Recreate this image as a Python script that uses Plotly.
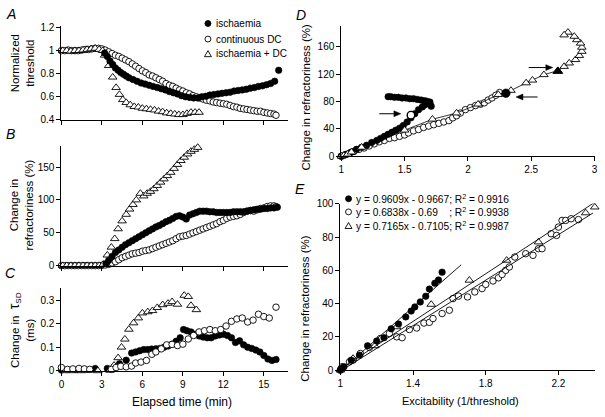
import plotly.graph_objects as go

W, H = 605, 417
FONT = "Liberation Sans, Arial, sans-serif"

# ---------------- Panel A: normalized threshold vs time ----------------
A_t_isch = [3.2, 3.4, 3.6, 3.8, 4.0, 4.2, 4.4, 4.6, 4.8, 5.0, 5.3, 5.6, 5.9, 6.2, 6.5, 6.8,
            7.1, 7.4, 7.7, 8.0, 8.3, 8.6, 8.9, 9.2, 9.5, 9.8, 10.1, 10.4, 10.7, 11.0, 11.3,
            11.6, 11.9, 12.2, 12.5, 12.8, 13.1, 13.4, 13.7, 14.0, 14.3, 14.6, 14.9, 15.2,
            15.5, 15.8, 16.1]
A_v_isch = [0.98, 0.95, 0.91, 0.88, 0.85, 0.83, 0.81, 0.795, 0.78, 0.765, 0.75, 0.735, 0.72,
            0.71, 0.70, 0.69, 0.68, 0.67, 0.66, 0.645, 0.635, 0.625, 0.61, 0.60, 0.595, 0.59,
            0.59, 0.60, 0.605, 0.615, 0.62, 0.625, 0.63, 0.635, 0.64, 0.65, 0.655, 0.66,
            0.665, 0.675, 0.68, 0.69, 0.695, 0.705, 0.715, 0.735, 0.83]

T_DC = [0, 0.25, 0.5, 0.75, 1.0, 1.25, 1.5, 1.75, 2.0, 2.25, 2.5, 2.75, 3.0, 3.25, 3.5, 3.75,
        4.0, 4.25, 4.5, 4.75, 5.0, 5.25, 5.5, 5.75, 6.0, 6.25, 6.5, 6.75, 7.0, 7.25, 7.5,
        7.75, 8.0, 8.25, 8.5, 8.75, 9.0, 9.25, 9.5, 9.75, 10.0, 10.25, 10.5, 10.75, 11.0,
        11.25, 11.5, 11.75, 12.0, 12.25, 12.5, 12.75, 13.0, 13.25, 13.5, 13.75, 14.0, 14.25,
        14.5, 14.75, 15.0, 15.25, 15.5, 15.75, 15.9]
A_v_dc = [1.0, 1.0, 1.005, 1.0, 1.0, 1.0, 1.005, 1.01, 1.01, 1.015, 1.02, 1.02, 1.015,
          1.005, 0.99, 0.975, 0.96, 0.95, 0.935, 0.92, 0.905, 0.885, 0.865, 0.845, 0.825,
          0.81, 0.79, 0.78, 0.765, 0.75, 0.735, 0.715, 0.70, 0.69, 0.675, 0.66, 0.65, 0.635,
          0.625, 0.61, 0.60, 0.59, 0.58, 0.57, 0.565, 0.555, 0.55, 0.545, 0.54, 0.535, 0.525,
          0.515, 0.51, 0.50, 0.495, 0.49, 0.485, 0.48, 0.475, 0.475, 0.465, 0.46, 0.455,
          0.45, 0.44]

A_t_tri = [0.1, 0.4, 0.7, 1.0, 1.3, 1.6, 1.9, 2.2, 2.5, 2.8, 3.05, 3.2, 3.5, 3.8, 4.05, 4.3,
           4.55, 4.8, 5.1, 5.4, 5.7, 6.0, 6.3, 6.6, 6.9, 7.2, 7.5, 7.8, 8.1, 8.4, 8.7, 9.0,
           9.3, 9.6, 9.9, 10.2]
A_v_tri = [1.0, 1.0, 0.995, 1.0, 1.0, 1.005, 1.01, 1.015, 1.02, 1.01, 1.0, 0.96, 0.87, 0.77,
           0.68, 0.62, 0.575, 0.55, 0.53, 0.515, 0.51, 0.50, 0.495, 0.49, 0.485, 0.475, 0.47,
           0.46, 0.455, 0.45, 0.445, 0.445, 0.455, 0.465, 0.465, 0.465]

# ---------------- Panel B: change in refractoriness vs time ----------------
B_t_isch = [3.3, 3.5, 3.75, 4.0, 4.25, 4.5, 4.75, 5.0, 5.25, 5.5, 5.75, 6.0, 6.25, 6.5, 6.75,
            7.0, 7.25, 7.5, 7.75, 8.0, 8.25, 8.5, 8.75, 9.0, 9.25, 9.5, 9.75, 10.0, 10.25,
            10.5, 10.75, 11.0, 11.25, 11.5, 11.75, 12.0, 12.25, 12.5, 12.75, 13.0, 13.25,
            13.5, 13.75, 14.0, 14.25, 14.5, 14.75, 15.0, 15.25, 15.5, 15.75, 16.0]
B_v_isch = [3, 8, 14, 20, 24, 28, 32, 35, 38, 41, 44, 47, 50, 53, 56, 59, 61, 64, 67, 69, 72,
            75, 76, 74, 71, 77, 79, 81, 83, 83, 83, 82, 82, 81, 81, 81, 81, 81, 82, 82, 82,
            82, 83, 84, 85, 86, 86, 87, 87, 88, 88, 89]
B_v_dc = [0, 0, 0, 0, 0, 0, 0, 0, 0, 0, 0, 0, 0.5, 1, 2, 4, 6, 9, 12, 14, 16, 18, 19, 20, 22,
          23, 24, 26, 28, 30, 32, 34, 36, 38, 41, 44, 45, 46, 48, 50, 52, 54, 56, 58, 60, 62,
          64, 67, 69, 72, 74, 75, 76, 78, 81, 83, 84, 83, 85, 87, 88, 90, 91, 91, 90]
B_t_tri = [0.1, 0.4, 0.7, 1.0, 1.3, 1.6, 1.9, 2.2, 2.5, 2.8, 3.1, 3.4, 3.7, 3.95, 4.2, 4.5,
           4.8, 5.05, 5.3, 5.55, 5.85, 6.1, 6.35, 6.6, 6.85, 7.1, 7.35, 7.6, 7.85, 8.1, 8.35,
           8.6, 8.85, 9.1, 9.35, 9.6, 9.85, 10.1]
B_v_tri = [0, 0, 0, 0, 0, 0, 0, 0, 0, 0, 2, 16, 28, 41, 56, 68, 78, 86, 93, 100, 110, 106, 110,
           113, 117, 122, 127, 132, 137, 142, 148, 154, 160, 165, 170, 174, 177, 180]

# ---------------- Panel C: change in tau_SD vs time ----------------
C_t_isch = [0, 2.5, 3.4, 3.9, 4.3, 4.8, 5.2, 5.5, 5.8, 6.1, 6.4, 6.7, 7.0, 7.3, 7.6, 7.9, 8.2,
            8.5, 8.8, 9.05, 9.3, 9.6, 9.9, 10.2, 10.5, 10.8, 11.1, 11.4, 11.7, 12.0, 12.3,
            12.6, 12.9, 13.2, 13.5, 13.8, 14.1, 14.4, 14.7, 15.0, 15.3, 15.6, 15.9]
C_v_isch = [0.003, 0.01, 0.01, 0.015, 0.03, 0.045, 0.075, 0.08, 0.085, 0.09, 0.09, 0.092,
            0.093, 0.095, 0.10, 0.105, 0.113, 0.125, 0.14, 0.175, 0.17, 0.165, 0.155, 0.148,
            0.143, 0.14, 0.14, 0.148, 0.152, 0.155, 0.15, 0.14, 0.12, 0.127, 0.11, 0.1, 0.095,
            0.088, 0.08, 0.065, 0.05, 0.044, 0.048]
C_t_dc = [0, 0.45, 0.85, 1.3, 1.7, 2.1, 3.7, 4.05, 4.4, 4.8, 5.2, 5.5, 5.9, 6.3, 6.7, 7.0,
          7.4, 7.8, 8.2, 8.6, 9.0, 9.4, 9.8, 10.2, 10.6, 11.0, 11.4, 11.8, 12.2, 12.6, 13.0,
          13.4, 13.8, 14.2, 14.6, 15.0, 15.4, 15.9]
C_v_dc = [0.014, 0.006, 0.008, 0.010, 0.008, 0.006, 0.006, 0.014, 0.019, 0.017, 0.020,
          0.033, 0.037, 0.044, 0.07, 0.08, 0.093, 0.11, 0.112, 0.107, 0.113, 0.135, 0.15,
          0.165, 0.17, 0.175, 0.17, 0.175, 0.19, 0.21, 0.22, 0.224, 0.207, 0.215, 0.24, 0.23,
          0.224, 0.27]
C_t_tri = [0.3, 0.6, 0.9, 1.2, 1.5, 1.8, 2.1, 2.7, 3.2, 3.6, 3.9, 4.2, 4.45, 4.7, 5.0, 5.35,
           5.7, 6.0, 6.4, 6.75, 7.1, 7.5, 7.9, 8.2, 8.6, 9.1, 9.4, 9.6, 10.0]
C_v_tri = [0.0, -0.003, 0.0, 0.003, 0.0, 0.002, 0.002, 0.0, -0.003, 0.002, 0.023, 0.055, 0.1,
           0.134, 0.176, 0.203, 0.224, 0.245, 0.25, 0.255, 0.268, 0.28, 0.286, 0.293, 0.282,
           0.32, 0.315, 0.277, 0.259]

# ---------------- Panel D: refractoriness vs excitability (paths) ----------------
D_x_dc = [1.0, 1.03, 1.07, 1.1, 1.14, 1.18, 1.22, 1.26, 1.3, 1.34, 1.38, 1.42, 1.46, 1.5,
          1.53, 1.57, 1.61, 1.65, 1.69, 1.73, 1.77, 1.81, 1.85, 1.88, 1.91, 1.94, 1.98, 2.02,
          2.06, 2.1, 2.13, 2.16, 2.19, 2.22, 2.25]
D_y_dc = [0, 2, 5, 7, 10, 12, 15, 18, 21, 23, 26, 27, 29, 31, 34, 37, 39, 42, 44, 46, 48, 50,
          52, 56, 59, 63, 68, 71, 74, 76, 78, 82, 85, 89, 93]
D_x_isch = [1.0, 1.04, 1.08, 1.12, 1.16, 1.2, 1.24, 1.28, 1.31, 1.34, 1.37, 1.4, 1.43, 1.46,
            1.49, 1.52, 1.55, 1.58, 1.61, 1.64, 1.66, 1.68, 1.70, 1.71, 1.70, 1.68, 1.66,
            1.63, 1.60, 1.57, 1.54, 1.51, 1.48, 1.45, 1.42, 1.39, 1.37]
D_y_isch = [0, 3, 6, 10, 13, 16, 20, 23, 26, 29, 32, 35, 38, 41, 45, 50, 56, 62, 68, 72, 75,
            77, 76, 73, 79, 80, 81, 82, 83, 84, 84, 85, 85, 86, 86, 87, 87]
D_x_tri = [1.0, 1.02, 1.05, 1.08, 1.16, 1.5, 1.72, 1.91, 2.08, 2.24, 2.34, 2.46, 2.51, 2.6,
           2.71, 2.76, 2.8, 2.85, 2.88, 2.9, 2.9, 2.89, 2.86, 2.84, 2.79, 2.76]
D_y_tri = [0, 1, 3, 6, 13, 38, 54, 63, 76, 90, 96, 107, 111, 119, 125, 131, 136, 141, 147,
           153, 159, 165, 170, 175, 181, 177]
# highlighted points (open circle, filled circle, filled triangle)
D_hi_open = ([1.55], [60])
D_hi_fill = ([2.3], [92])
D_hi_tri = ([2.71], [124])
# arrows: (tail x, head x, y)
D_arrows = [(1.30, 1.47, 62), (2.55, 2.38, 86.5), (2.48, 2.67, 129.5)]

# ---------------- Panel E: refractoriness vs excitability (regressions) ----------------
E_x_isch = [1.0, 1.005, 1.02, 1.06, 1.105, 1.15, 1.2, 1.24, 1.28, 1.32, 1.36, 1.39, 1.41,
            1.44, 1.47, 1.49, 1.52, 1.54, 1.56]
E_y_isch = [0, 1, 2, 6, 9, 14.6, 17.5, 19.5, 24.8, 27.7, 32, 35.5, 38, 41, 44.4, 48.7, 52.2,
            54.2, 58.9]
E_x_dc = [1.0, 1.01, 1.05, 1.07, 1.11, 1.16, 1.22, 1.27, 1.31, 1.34, 1.38, 1.42, 1.46, 1.49,
          1.51, 1.56, 1.6, 1.62, 1.65, 1.7, 1.74, 1.78, 1.8, 1.84, 1.87, 1.89, 1.91, 1.93,
          1.96, 2.02, 2.06, 2.09, 2.11, 2.16, 2.19, 2.2, 2.22, 2.24, 2.27, 2.31]
E_y_dc = [0, 2, 5, 6, 10, 13.6, 19, 22, 20, 19.5, 24.4, 25.3, 28.3, 28.7, 31, 34, 36, 43,
          44.5, 44, 47, 49, 51.5, 53.6, 55.5, 57.5, 60, 62, 68, 70, 69, 73, 73, 82, 81, 86,
          90, 90, 91, 90.5]
E_x_tri = [1.0, 1.07, 1.19, 1.31, 1.5, 1.71, 1.915, 2.09, 2.35, 2.4]
E_y_tri = [0, 7, 14.6, 26, 39.5, 54, 66, 77, 94.5, 98]

FIT_SLOPE = [0.9609, 0.6838, 0.7165]
FIT_INTERCEPT = [-0.9667, -0.69, -0.7105]
FIT_XRANGE = [(1.0, 1.665), (1.0, 2.39), (1.0, 2.4)]
E_LEGEND = ["y = 0.9609x - 0.9667; R<sup>2</sup> = 0.9916",
            "y = 0.6838x - 0.69\u00a0\u00a0\u00a0\u00a0; R<sup>2</sup> = 0.9938",
            "y = 0.7165x - 0.7105; R<sup>2</sup> = 0.9987"]
A_LEGEND = ["ischaemia", "continuous DC", "ischaemia + DC"]

# ---------------- styles ----------------
MK_FILL = dict(symbol="circle", size=6.5, color="black", line=dict(color="black", width=0.6))
MK_OPEN = dict(symbol="circle", size=6.5, color="white", line=dict(color="black", width=0.9))
MK_TRI = dict(symbol="triangle-up", size=7.5, color="white", line=dict(color="black", width=0.9))
MK_TRI_F = dict(symbol="triangle-up", size=8.5, color="black", line=dict(color="black", width=0.9))


def px(x):
    return x / W


def py(y):
    return 1 - y / H


fig = go.Figure()


def add(x, y, mk, ax, mode="markers", line=None):
    fig.add_trace(go.Scatter(x=x, y=y, mode=mode, marker=mk, line=line,
                             xaxis="x" + ax, yaxis="y" + ax, cliponaxis=False,
                             showlegend=False, hoverinfo="skip"))


# A
add(T_DC, A_v_dc, MK_OPEN, "")
add(A_t_tri, A_v_tri, MK_TRI, "")
add(A_t_isch, A_v_isch, MK_FILL, "")
# B
add(T_DC, B_v_dc, MK_OPEN, "2")
add(B_t_tri, B_v_tri, MK_TRI, "2")
add(B_t_isch, B_v_isch, MK_FILL, "2")
# C
add(C_t_isch, C_v_isch, MK_FILL, "3")
add(C_t_tri, C_v_tri, MK_TRI, "3")
add(C_t_dc, C_v_dc, MK_OPEN, "3")
# D
add(D_x_dc, D_y_dc, MK_OPEN, "4")
add(D_x_isch, D_y_isch, MK_FILL, "4")
add(D_x_tri, D_y_tri, MK_TRI, "4", mode="lines+markers", line=dict(color="black", width=0.8))
add(D_hi_open[0], D_hi_open[1], dict(MK_OPEN, size=7.5, line=dict(color="black", width=1.4)), "4")
add(D_hi_fill[0], D_hi_fill[1], dict(MK_FILL, size=8.5), "4")
add(D_hi_tri[0], D_hi_tri[1], MK_TRI_F, "4")
# E
add(E_x_dc, E_y_dc, MK_OPEN, "5")
add(E_x_tri, E_y_tri, MK_TRI, "5")
add(E_x_isch, E_y_isch, MK_FILL, "5")
for s, b, (x0, x1) in zip(FIT_SLOPE, FIT_INTERCEPT, FIT_XRANGE):
    fig.add_trace(go.Scatter(x=[x0, x1], y=[100 * (s * x0 + b), 100 * (s * x1 + b)],
                             mode="lines", line=dict(color="black", width=0.9),
                             xaxis="x5", yaxis="y5", showlegend=False, hoverinfo="skip",
                             cliponaxis=True))

common = dict(showline=True, linecolor="black", linewidth=1, ticks="outside", ticklen=4,
              tickwidth=1, tickcolor="black", showgrid=False, zeroline=False,
              tickfont=dict(family=FONT, size=10, color="black"), fixedrange=True,
              ticklabeloverflow="allow")

xdomL = [px(59), px(288)]
layout = dict(
    width=W, height=H, autosize=False,
    margin=dict(l=0, r=0, t=0, b=0),
    paper_bgcolor="white", plot_bgcolor="white",
    font=dict(family=FONT, color="black"),
    showlegend=False,
    xaxis=dict(common, domain=xdomL, range=[0, 16.8], tick0=0, dtick=3, showticklabels=False, anchor="y"),
    yaxis=dict(common, domain=[py(118), py(22)], range=[0.4, 1.21], tickvals=[0.4, 0.6, 0.8, 1.0, 1.2],
               ticktext=["0.4", "0.6", "0.8", "1", "1.2"], anchor="x"),
    xaxis2=dict(common, domain=xdomL, range=[0, 16.8], tick0=0, dtick=3, showticklabels=False, anchor="y2"),
    yaxis2=dict(common, domain=[py(267.7), py(145)], range=[0, 182], tick0=0, dtick=50, anchor="x2"),
    xaxis3=dict(common, domain=xdomL, range=[0, 16.8], tickvals=[0, 3, 6, 9, 12, 15], anchor="y3"),
    yaxis3=dict(common, domain=[py(375.7), py(291)], range=[0, 0.35], tickvals=[0, 0.1, 0.2, 0.3],
                ticktext=["0", "0.1", "0.2", "0.3"], anchor="x3"),
    xaxis4=dict(common, domain=[px(341.7), px(597.7)], range=[1, 3.002], tickvals=[1, 1.5, 2, 2.5, 3],
                ticktext=["1", "1.5", "2", "2.5", "3"], anchor="y4"),
    yaxis4=dict(common, domain=[py(155.3), py(21.7)], range=[0, 190], tickvals=[0, 40, 80, 120, 160],
                anchor="x4"),
    xaxis5=dict(common, domain=[px(340.7), px(597.7)], range=[1, 2.4], tickvals=[1, 1.4, 1.8, 2.2],
                ticktext=["1", "1.4", "1.8", "2.2"], anchor="y5"),
    yaxis5=dict(common, domain=[py(375), py(204)], range=[0, 100.1], tickvals=[0, 20, 40, 60, 80, 100],
                anchor="x5"),
)

ann = []


def text(x, y, t, size, angle=0, xanchor="center", italic=False):
    ann.append(dict(x=px(x), y=py(y), xref="paper", yref="paper", text=t, showarrow=False,
                    textangle=angle, xanchor=xanchor, yanchor="middle", align="center",
                    font=dict(family=FONT, size=size, color="black",
                              style="italic" if italic else "normal")))


# panel letters
for lab, (x, y) in zip("ABCDE", [(8, 9), (8, 133), (8, 275), (301, 10), (300, 189)]):
    text(x, y, lab, 14, italic=True)

# axis titles
text(20, 60, "Normalized<br>threshold", 11.5, angle=-90)
text(19, 205, "Change in<br>refractoriness (%)", 11.5, angle=-90)
text(18, 334, "Change in  <span style='font-size:14px'>\u03c4</span><sub>SD</sub><br>(ms)", 11.5, angle=-90)
text(306, 94, "Change in refractoriness (%)", 11.5, angle=-90)
text(305, 311, "Change in refractoriness (%)", 11.5, angle=-90)
text(181, 408, "Elapsed time (min)", 12)
text(462, 407, "Excitability (1/threshold)", 11)

shapes = []


def leg_marker(cx, cy, kind):
    if kind == "tri":
        s = 7.0
        h = s * 0.87
        path = "M {} {} L {} {} L {} {} Z".format(px(cx - s / 2), py(cy + h / 2),
                                                  px(cx + s / 2), py(cy + h / 2),
                                                  px(cx), py(cy - h / 2))
        shapes.append(dict(type="path", xref="paper", yref="paper", path=path,
                           line=dict(color="black", width=0.9), fillcolor="white"))
    else:
        d = 6.0
        shapes.append(dict(type="circle", xref="paper", yref="paper",
                           x0=px(cx - d / 2), x1=px(cx + d / 2), y0=py(cy + d / 2), y1=py(cy - d / 2),
                           line=dict(color="black", width=0.9),
                           fillcolor="black" if kind == "fill" else "white"))


# legend of A
for lab, y, kind in zip(A_LEGEND, [19, 35, 50], ["fill", "open", "tri"]):
    leg_marker(207, y, kind)
    text(213, y, lab, 10, xanchor="left")

# regression legend of E
for lab, y, kind in zip(E_LEGEND, [199, 212.5, 226.5], ["fill", "open", "tri"]):
    leg_marker(349, y, kind)
    text(355, y, lab, 10.2, xanchor="left")

# arrows in D (shaft + head drawn as shapes in data coordinates of panel D)
X_PER_PX = 2.0 / 256.0
Y_PER_PX = 190.0 / 133.6
for tx, hx, y in D_arrows:
    d = 1 if hx > tx else -1
    base = hx - d * 7 * X_PER_PX
    hw = 3 * Y_PER_PX
    shapes.append(dict(type="line", xref="x4", yref="y4", x0=tx, x1=base, y0=y, y1=y,
                       line=dict(color="black", width=1)))
    shapes.append(dict(type="path", xref="x4", yref="y4",
                       path="M {} {} L {} {} L {} {} Z".format(hx, y, base, y + hw, base, y - hw),
                       line=dict(color="black", width=0.5), fillcolor="black"))

layout["annotations"] = ann
layout["shapes"] = shapes
fig.update_layout(**layout)
# remove the browser's default page margin so the 605x417 figure fills the window exactly
fig.write_html("out.html", config={"displayModeBar": False, "staticPlot": True},
               post_script="document.body.style.margin='0px';document.body.style.overflow='hidden';")
